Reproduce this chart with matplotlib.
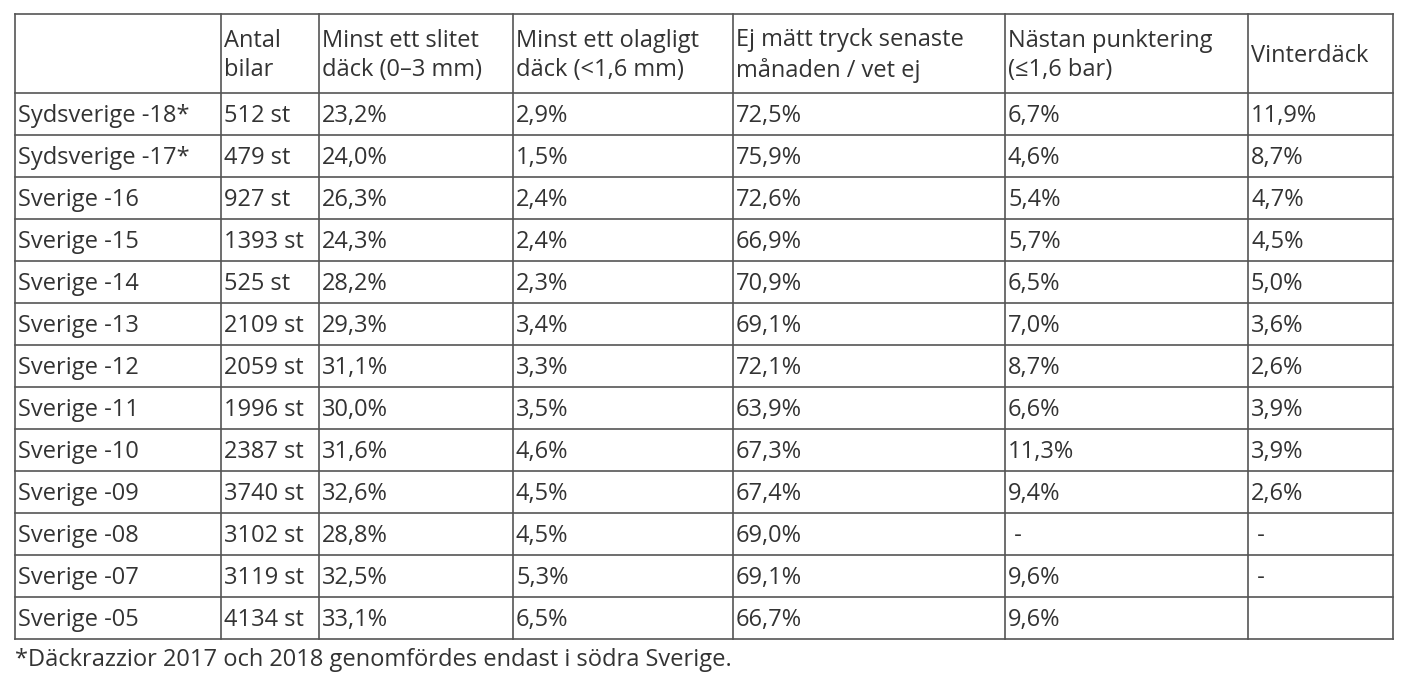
import matplotlib.pyplot as plt

headers = ["", "Antal\nbilar", "Minst ett slitet\ndäck (0–3 mm)", "Minst ett olagligt\ndäck (<1,6 mm)",
           "Ej mätt tryck senaste\nmånaden / vet ej", "Nästan punktering\n(≤1,6 bar)", "Vinterdäck"]
labels = ["Sydsverige -18*", "Sydsverige -17*", "Sverige -16", "Sverige -15", "Sverige -14",
          "Sverige -13", "Sverige -12", "Sverige -11", "Sverige -10", "Sverige -09",
          "Sverige -08", "Sverige -07", "Sverige -05"]
antal = ["512 st", "479 st", "927 st", "1393 st", "525 st", "2109 st", "2059 st", "1996 st",
         "2387 st", "3740 st", "3102 st", "3119 st", "4134 st"]
slitet = ["23,2%", "24,0%", "26,3%", "24,3%", "28,2%", "29,3%", "31,1%", "30,0%", "31,6%",
          "32,6%", "28,8%", "32,5%", "33,1%"]
olagligt = ["2,9%", "1,5%", "2,4%", "2,4%", "2,3%", "3,4%", "3,3%", "3,5%", "4,6%", "4,5%",
            "4,5%", "5,3%", "6,5%"]
ej_matt = ["72,5%", "75,9%", "72,6%", "66,9%", "70,9%", "69,1%", "72,1%", "63,9%", "67,3%",
           "67,4%", "69,0%", "69,1%", "66,7%"]
punktering = ["6,7%", "4,6%", "5,4%", "5,7%", "6,5%", "7,0%", "8,7%", "6,6%", "11,3%", "9,4%",
              " -", "9,6%", "9,6%"]
vinter = ["11,9%", "8,7%", "4,7%", "4,5%", "5,0%", "3,6%", "2,6%", "3,9%", "3,9%", "2,6%",
          " -", " -", ""]
footnote = "*Däckrazzior 2017 och 2018 genomfördes endast i södra Sverige."

columns = [labels, antal, slitet, olagligt, ej_matt, punktering, vinter]

# layout in pixels
col_x = [15, 221, 319, 513, 733, 1005, 1248, 1393]
head_top, head_bot, row_h = 14, 93, 42
txt = "#333333"
line = "#555555"
fs = 17

plt.rcParams["font.family"] = "Open Sans"
fig = plt.figure(figsize=(14.08, 6.82), dpi=100)
ax = fig.add_axes([0, 0, 1, 1])
ax.set_xlim(0, 1408)
ax.set_ylim(682, 0)
ax.axis("off")

n = len(labels)
bottom = head_bot + n * row_h
ys = [head_top, head_bot] + [head_bot + (i + 1) * row_h for i in range(n)]
for y in ys:
    ax.plot([col_x[0], col_x[-1]], [y, y], color=line, lw=1.2)
for x in col_x:
    ax.plot([x, x], [head_top, bottom], color=line, lw=1.2)

for j, h in enumerate(headers):
    ax.text(col_x[j] + 3, (head_top + head_bot) / 2 + 2, h, va="center", ha="left",
            fontsize=fs, color=txt, linespacing=1.3)
for j, col in enumerate(columns):
    for i, v in enumerate(col):
        ax.text(col_x[j] + 3, head_bot + (i + 0.5) * row_h + 2, v, va="center", ha="left",
                fontsize=fs, color=txt)

ax.text(15, 660, footnote, va="center", ha="left", fontsize=fs, color=txt)

fig.savefig("out.png", dpi=100)
